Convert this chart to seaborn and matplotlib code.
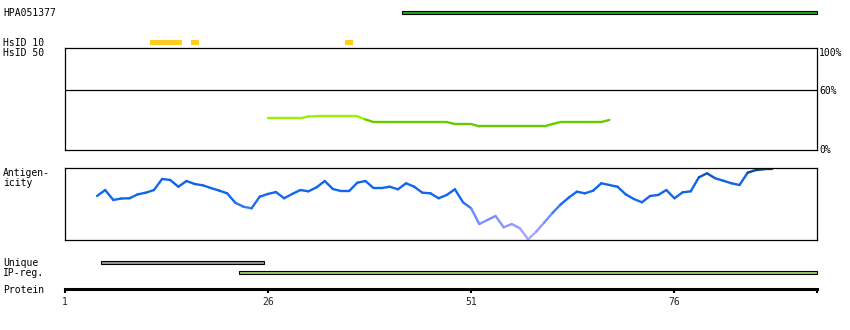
import numpy as np
import pandas as pd
import matplotlib
matplotlib.use("Agg")
import matplotlib.pyplot as plt
from matplotlib.colors import LinearSegmentedColormap, to_hex
import seaborn as sns

# ---------------- data ----------------
protein_length = 93
tick_residues = [1, 26, 51, 76]
tick_labels = ["1", "26", "51", "76"]

antibody_name = "HPA051377"
hpa_range = (43, 93)
hsid10_ranges = [(12, 15), (17, 17), (36, 36)]
unique_range = (6, 25)
ipreg_range = (23, 93)

cons_start = 26
cons_values = [31.9, 31.9, 31.9, 31.9, 31.9, 33.7, 33.9, 33.9, 33.9, 33.9,
               33.9, 33.9, 30.7, 28.1, 28.1, 28.1, 28.1, 28.1, 28.1, 28.1,
               28.1, 28.1, 28.1, 26.1, 26.1, 26.1, 23.8, 23.8, 23.8, 23.8,
               23.8, 23.8, 23.8, 23.8, 23.8, 26.1, 28.1, 28.1, 28.1, 28.1,
               28.1, 28.1, 30.2]
cons_labels = ["0%", "60%", "100%"]

antigen_start = 5
antigen_values = [0.614, 0.697, 0.558, 0.579, 0.582, 0.637, 0.660, 0.697, 0.851, 0.837,
                  0.743, 0.823, 0.781, 0.763, 0.725, 0.690, 0.651, 0.520, 0.464, 0.442,
                  0.604, 0.642, 0.669, 0.582, 0.642, 0.697, 0.679, 0.735, 0.823, 0.711,
                  0.683, 0.683, 0.799, 0.823, 0.725, 0.725, 0.743, 0.707, 0.791, 0.743,
                  0.660, 0.651, 0.582, 0.628, 0.707, 0.526, 0.442, 0.223, 0.279, 0.335,
                  0.177, 0.223, 0.163, 0.010, 0.116, 0.246, 0.377, 0.495, 0.591, 0.674,
                  0.651, 0.688, 0.791, 0.767, 0.743, 0.637, 0.572, 0.526, 0.614, 0.628,
                  0.697, 0.582, 0.665, 0.679, 0.874, 0.930, 0.861, 0.827, 0.791, 0.767,
                  0.939, 0.976, 0.986, 0.986]

# ---------------- style ----------------
sns.set_theme(style="white")
plt.rcParams["font.family"] = ["DejaVu Sans Mono"]
plt.rcParams["font.size"] = 7

W, H = 850, 330
fig = plt.figure(figsize=(W / 100, H / 100), dpi=100)
X0, X1 = 64.5, 816.8
XLIM = (1, protein_length + 0.5)


def add_ax(y0, y1, x0=X0, x1=X1):
    return fig.add_axes([x0 / W, 1 - y1 / H, (x1 - x0) / W, (y1 - y0) / H])


def bare(ax):
    ax.set_xlim(*XLIM)
    ax.set_ylim(0, 1)
    ax.set_xticks([])
    ax.set_yticks([])
    for s in ax.spines.values():
        s.set_visible(False)
    ax.patch.set_alpha(0)


def range_bar(ax, rng, color, edge):
    s, e = rng
    ax.barh(0.5, e - s + 1, left=s - 0.5, height=1.0, color=color,
            edgecolor=edge if edge else color, linewidth=0.8 if edge else 0,
            clip_on=False)


def seg_frame(start, values):
    rows = []
    for i in range(len(values) - 1):
        rows.append((f"s{i:03d}", start + i, values[i]))
        rows.append((f"s{i:03d}", start + i + 1, values[i + 1]))
    return pd.DataFrame(rows, columns=["seg", "residue", "value"])


def label(x, ybase, text, ha="left"):
    fig.text(x / W, 1 - ybase / H, text, ha=ha, va="baseline", fontsize=7, color="black")


# ---------------- HPA bar ----------------
ax = add_ax(10.6, 14.2)
bare(ax)
range_bar(ax, hpa_range, "#22aa22", "black")

# ---------------- HsID 10 ----------------
ax = add_ax(40.0, 44.7)
bare(ax)
for r in hsid10_ranges:
    range_bar(ax, r, "#ffcc22", None)

# ---------------- conservation panel ----------------
ax = add_ax(48.3, 150.0)
ax.set_xlim(*XLIM)
ax.set_ylim(0, 102.2)
ax.set_xticks([])
ax.set_yticks([])
for s in ax.spines.values():
    s.set_color("black")
    s.set_linewidth(0.9)
ax.axhline(60, color="black", lw=0.9)
cdf = seg_frame(cons_start, cons_values)
cpal = {}
for seg, g in cdf.groupby("seg"):
    cpal[seg] = "#99f000" if g["value"].mean() >= 31 else "#66cc00"
sns.lineplot(data=cdf, x="residue", y="value", hue="seg", palette=cpal, legend=False,
             estimator=None, sort=False, linewidth=1.7, solid_capstyle="round", ax=ax)
ax.set_xlabel("")
ax.set_ylabel("")

label(819.3, 56, cons_labels[2])
label(819.3, 94, cons_labels[1])
label(819.3, 153.3, cons_labels[0])

# ---------------- antigenicity panel ----------------
ax = add_ax(168.3, 240.0)
ax.set_xlim(*XLIM)
ax.set_ylim(0, 1)
ax.set_xticks([])
ax.set_yticks([])
for s in ax.spines.values():
    s.set_color("black")
    s.set_linewidth(0.9)
cmap = LinearSegmentedColormap.from_list(
    "antigen",
    [(0.00, "#b8aaff"), (0.15, "#a09cff"), (0.30, "#7790ff"), (0.45, "#3a78f2"),
     (0.55, "#1468ee"), (0.85, "#1064e6"), (0.92, "#0a52a8"), (1.00, "#004488")])
adf = seg_frame(antigen_start, antigen_values)
apal = {}
for seg, g in adf.groupby("seg"):
    apal[seg] = to_hex(cmap(float(np.clip(g["value"].mean(), 0, 1))))
sns.lineplot(data=adf, x="residue", y="value", hue="seg", palette=apal, legend=False,
             estimator=None, sort=False, linewidth=1.7, solid_capstyle="round", ax=ax)
ax.set_xlabel("")
ax.set_ylabel("")

# ---------------- unique / IP-reg ----------------
ax = add_ax(260.6, 264.2)
bare(ax)
range_bar(ax, unique_range, "#999999", "black")

ax = add_ax(270.6, 274.2)
bare(ax)
range_bar(ax, ipreg_range, "#99cc66", "black")

# ---------------- protein axis ----------------
ax = add_ax(287.2, 289.2)
ax.set_xlim(*XLIM)
ax.set_ylim(0, 1)
ax.set_yticks([])
for k, s in ax.spines.items():
    s.set_visible(k == "bottom")
ax.spines["bottom"].set_linewidth(2.2)
ax.spines["bottom"].set_color("black")
ax.set_xticks(tick_residues + [protein_length + 0.5])
ax.set_xticklabels(tick_labels + [""])
ax.tick_params(axis="x", direction="out", length=3.0, width=1.5, pad=2.5,
               labelsize=7, color="black", bottom=True)
ax.patch.set_alpha(0)

# ---------------- left labels ----------------
label(3, 16, antibody_name)
label(3, 46, "HsID 10")
label(3, 56, "HsID 50")
label(3, 176.3, "Antigen-")
label(3, 186.5, "icity")
label(3, 266.3, "Unique")
label(3, 276.3, "IP-reg.")
label(3, 293.3, "Protein")

fig.savefig("out.png", dpi=100)
